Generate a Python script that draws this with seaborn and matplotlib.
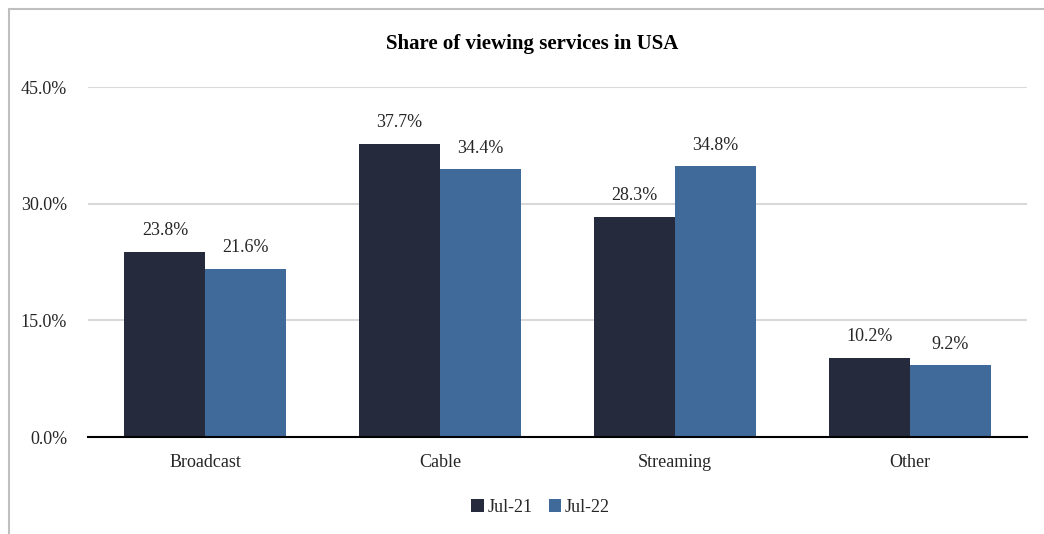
import matplotlib
matplotlib.use("Agg")
import matplotlib.pyplot as plt
import matplotlib.patches as mpatches
from matplotlib.ticker import FuncFormatter
import seaborn as sns
import pandas as pd

# Viewing share by service type
categories = ["Broadcast", "Cable", "Streaming", "Other"]
periods = ["Jul-21", "Jul-22"]
jul21 = [23.8, 37.7, 28.3, 10.2]
jul22 = [21.6, 34.4, 34.8, 9.2]
yticks = [0, 15, 30, 45]

colors = ["#252B3D", "#406A9A"]

df = pd.DataFrame({
    "service": categories * 2,
    "period": [periods[0]] * 4 + [periods[1]] * 4,
    "share": jul21 + jul22,
})

sns.set_theme(style="white")
plt.rcParams["font.family"] = ["Liberation Serif", "DejaVu Serif"]

fig = plt.figure(figsize=(10.44, 5.34), dpi=100)
ax = fig.add_axes([88 / 1044, 1 - 437 / 534, 939 / 1044, 350 / 534])

sns.barplot(data=df, x="service", y="share", hue="period", order=categories,
            hue_order=periods, palette=colors, width=0.69, saturation=1,
            edgecolor="none", linewidth=0, ax=ax)

for cont in ax.containers:
    ax.bar_label(cont, labels=[f"{v:.1f}%" for v in cont.datavalues],
                 padding=9, fontsize=13, color="#262626")

ax.set_ylim(0, 45)
ax.set_xlim(-0.5, 3.5)
ax.set_yticks(yticks)
ax.yaxis.set_major_formatter(FuncFormatter(lambda v, _: f"{v:.1f}%"))
ax.grid(axis="y", color="#D9D9D9", linewidth=1.5)
ax.set_axisbelow(True)
for s in ["top", "right", "left"]:
    ax.spines[s].set_visible(False)
ax.spines["bottom"].set_color("#000000")
ax.spines["bottom"].set_linewidth(1.5)
ax.tick_params(axis="y", labelsize=13, labelcolor="#262626", pad=15, length=0)
ax.tick_params(axis="x", labelsize=13, labelcolor="#262626", pad=12, length=0)
ax.set_xlabel("")
ax.set_ylabel("")

ax.set_title("Share of viewing services in USA", fontsize=15, fontweight="bold",
             color="#000000", pad=27, x=0.473)

leg = ax.legend(loc="upper center", bbox_to_anchor=(0.482, -0.13), ncol=2,
                frameon=False, fontsize=13, handlelength=0.7, handleheight=0.7,
                handletextpad=0.2, columnspacing=0.9)
for t in leg.get_texts():
    t.set_color("#262626")

# Chart-area frame, running off the right and bottom edges
fig.patches.append(mpatches.Rectangle((9 / 1044, -0.1), 1.2, 1 - 9 / 534 + 0.1,
                                      transform=fig.transFigure, fill=False,
                                      edgecolor="#BFBFBF", linewidth=1.5))

fig.savefig("out.png", dpi=100)
